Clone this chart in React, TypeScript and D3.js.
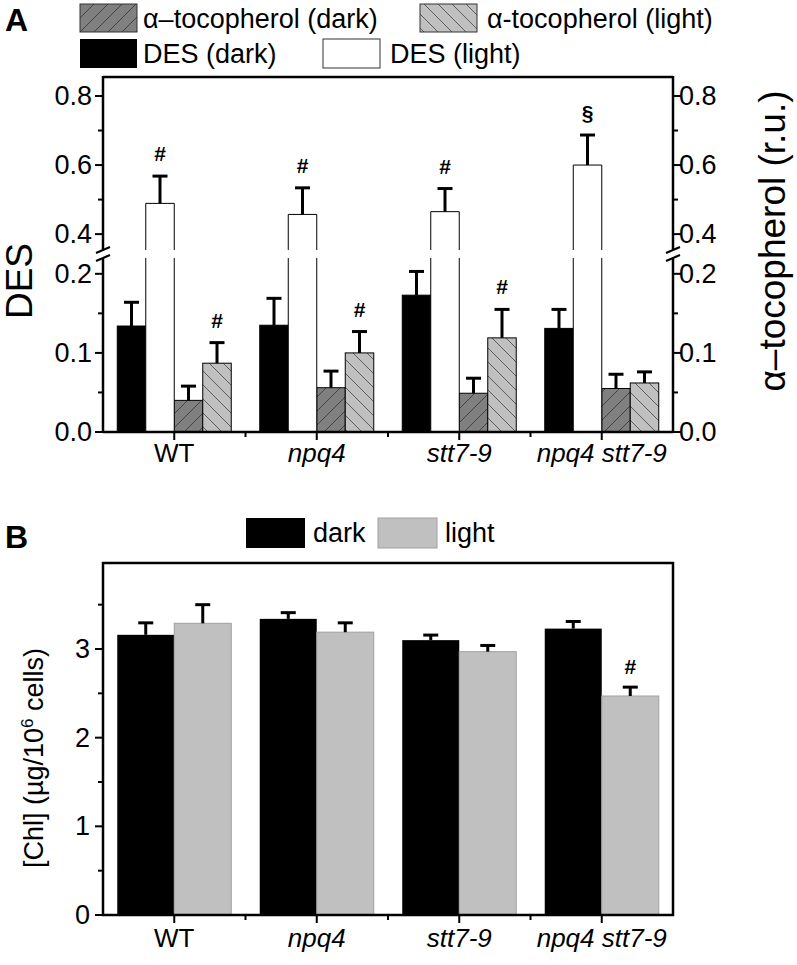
import React from "react";
import * as d3 from "d3";

const FONT = "'Liberation Sans', Arial, Helvetica, sans-serif";

// Panel A data
const groups = ["WT", "npq4", "stt7-9", "npq4 stt7-9"];
const groupItalic = [false, true, true, true];
const desDark = [0.134, 0.135, 0.173, 0.131];
const desDarkErr = [0.030, 0.034, 0.030, 0.024];
const desLight = [0.489, 0.457, 0.465, 0.600];
const desLightErr = [0.079, 0.077, 0.067, 0.087];
const tocDark = [0.040, 0.056, 0.049, 0.055];
const tocDarkErr = [0.018, 0.021, 0.019, 0.018];
const tocLight = [0.087, 0.100, 0.119, 0.062];
const tocLightErr = [0.026, 0.027, 0.036, 0.014];
const desLightMarks = ["#", "#", "#", "§"];
const tocLightMarks = ["#", "#", "#", ""];
const lowTicks = [0, 0.1, 0.2];
const lowMinor = [0.05, 0.15];
const highTicks = [0.4, 0.6, 0.8];
const highMinor = [0.5, 0.7];

// Panel B data
const chlDark = [3.16, 3.34, 3.10, 3.23];
const chlDarkErr = [0.135, 0.07, 0.057, 0.08];
const chlLight = [3.29, 3.19, 2.97, 2.47];
const chlLightErr = [0.21, 0.105, 0.07, 0.10];
const chlLightMarks = ["", "", "", "#"];
const bTicks = [0, 1, 2, 3];
const bMinor = [0.5, 1.5, 2.5, 3.5];

const AX = 2.5;

export default function App() {
  const x = d3.scaleBand<string>().domain(groups).range([103, 673]).padding(0);
  const bw = x.bandwidth();
  const cx = (g: string) => (x(g) as number) + bw / 2;
  const barW = bw / 5;
  const yLow = d3.scaleLinear().domain([0, 0.22]).range([432, 258]);
  const yHigh = d3.scaleLinear().domain([0.354, 0.855]).range([250, 77]);
  const yB = d3.scaleLinear().domain([0, 3.97]).range([915, 563]);
  const fmt = d3.format(".1f");

  const errBar = (key: string, xc: number, y0: number, y1: number) => (
    <g key={key} stroke="#000" strokeWidth={3}>
      <line x1={xc} x2={xc} y1={y0} y2={y1} />
      <line x1={xc - 7.5} x2={xc + 7.5} y1={y1} y2={y1} />
    </g>
  );

  const lowSeries = [
    { vals: desDark, errs: desDarkErr, off: -2, fill: "#000" },
    { vals: tocDark, errs: tocDarkErr, off: 0, fill: "url(#hatchDark)" },
    { vals: tocLight, errs: tocLightErr, off: 1, fill: "url(#hatchLight)" },
  ];

  const A_LEFT = 103, A_RIGHT = 673, A_TOP = 77, A_BOT = 432;
  const B_TOP = 563, B_BOT = 915;

  return (
    <svg width={797} height={965} style={{ position: "absolute", left: 0, top: 0, background: "#fff" }} fontFamily={FONT}>
      <defs>
        <pattern id="hatchDark" patternUnits="userSpaceOnUse" width={14} height={14}>
          <rect width={14} height={14} fill="#808080" />
          <path d="M0,14 L14,0 M-3,3 L3,-3 M11,17 L17,11" stroke="#333" strokeWidth={0.8} />
        </pattern>
        <pattern id="hatchLight" patternUnits="userSpaceOnUse" width={14} height={14}>
          <rect width={14} height={14} fill="#c0c0c0" />
          <path d="M0,0 L14,14 M-3,11 L3,17 M11,-3 L17,3" stroke="#444" strokeWidth={0.8} />
        </pattern>
      </defs>

      {/* ---------- Panel A ---------- */}
      <text x={5} y={31} fontSize={32} fontWeight="bold">A</text>
      {/* legend A */}
      <rect x={80} y={4} width={57} height={28} fill="url(#hatchDark)" stroke="#333" strokeWidth={1} />
      <text x={143} y={28} fontSize={27}>α–tocopherol (dark)</text>
      <rect x={420} y={4} width={57} height={28} fill="url(#hatchLight)" stroke="#333" strokeWidth={1} />
      <text x={487} y={28} fontSize={27}>α-tocopherol (light)</text>
      <rect x={80} y={39} width={57} height={29} fill="#000" />
      <text x={143} y={63} fontSize={27}>DES (dark)</text>
      <rect x={323} y={39} width={57} height={29} fill="#fff" stroke="#333" strokeWidth={1} />
      <text x={390} y={63} fontSize={27}>DES (light)</text>

      {/* bars lower segment */}
      {lowSeries.map((s, si) =>
        groups.map((g, i) => {
          const left = cx(g) + s.off * barW;
          const yv = yLow(s.vals[i]);
          return (
            <g key={`l${si}-${i}`}>
              <rect x={left} y={yv} width={barW} height={A_BOT - yv} fill={s.fill} stroke="#000" strokeWidth={1} />
              {errBar(`le${si}-${i}`, left + barW / 2, yv, yLow(s.vals[i] + s.errs[i]))}
            </g>
          );
        })
      )}
      {/* DES light broken bars */}
      {groups.map((g, i) => {
        const left = cx(g) - barW;
        const right = left + barW;
        const top = yHigh(desLight[i]);
        const lowTop = yLow(0.22);
        return (
          <g key={`dl${i}`}>
            <rect x={left} y={lowTop} width={barW} height={A_BOT - lowTop} fill="#fff" />
            <rect x={left} y={top} width={barW} height={250 - top} fill="#fff" />
            <path d={`M${left},${A_BOT}V${lowTop}M${right},${A_BOT}V${lowTop}`} stroke="#000" strokeWidth={1} fill="none" />
            <path d={`M${left},250V${top}H${right}V250`} stroke="#000" strokeWidth={1} fill="none" />
            {errBar(`dle${i}`, left + barW / 2, top, yHigh(desLight[i] + desLightErr[i]))}
            {desLightMarks[i] && (
              <text x={left + barW / 2} y={yHigh(desLight[i] + desLightErr[i]) - 15} fontSize={21} fontWeight="bold" textAnchor="middle">{desLightMarks[i]}</text>
            )}
          </g>
        );
      })}
      {groups.map((g, i) =>
        tocLightMarks[i] ? (
          <text key={`tm${i}`} x={cx(g) + 1.5 * barW} y={yLow(tocLight[i] + tocLightErr[i]) - 15} fontSize={21} fontWeight="bold" textAnchor="middle">{tocLightMarks[i]}</text>
        ) : null
      )}

      {/* frame A */}
      <line x1={A_LEFT} x2={A_RIGHT} y1={A_TOP} y2={A_TOP} stroke="#000" strokeWidth={AX} />
      <line x1={A_LEFT} x2={A_RIGHT} y1={A_BOT} y2={A_BOT} stroke="#000" strokeWidth={AX} />
      {[A_LEFT, A_RIGHT].map((ax, k) => (
        <g key={`ax${k}`} stroke="#000">
          <line x1={ax} x2={ax} y1={A_TOP - 1} y2={250} strokeWidth={AX} />
          <line x1={ax} x2={ax} y1={258} y2={A_BOT + 1} strokeWidth={AX} />
          <line x1={ax - 7} x2={ax + 7} y1={253} y2={247} strokeWidth={2} />
          <line x1={ax - 7} x2={ax + 7} y1={261} y2={255} strokeWidth={2} />
        </g>
      ))}
      {/* y ticks A */}
      {[
        ...lowTicks.map((v) => ({ y: yLow(v), v, major: true })),
        ...lowMinor.map((v) => ({ y: yLow(v), v, major: false })),
        ...highTicks.map((v) => ({ y: yHigh(v), v, major: true })),
        ...highMinor.map((v) => ({ y: yHigh(v), v, major: false })),
      ].map((t, i) => (
        <g key={`ta${i}`}>
          <line x1={A_LEFT} x2={A_LEFT - (t.major ? 8 : 5)} y1={t.y} y2={t.y} stroke="#000" strokeWidth={2} />
          <line x1={A_RIGHT} x2={A_RIGHT + (t.major ? 8 : 5)} y1={t.y} y2={t.y} stroke="#000" strokeWidth={2} />
          {t.major && (
            <>
              <text x={92} y={t.y} fontSize={27} textAnchor="end" dominantBaseline="central">{fmt(t.v)}</text>
              <text x={679} y={t.y} fontSize={27} textAnchor="start" dominantBaseline="central">{fmt(t.v)}</text>
            </>
          )}
        </g>
      ))}
      {/* x ticks A */}
      {groups.map((g, i) => (
        <g key={`xa${i}`} stroke="#000" strokeWidth={2}>
          <line x1={cx(g)} x2={cx(g)} y1={A_BOT} y2={A_BOT + 8} />
          {i > 0 && <line x1={x(g) as number} x2={x(g) as number} y1={A_BOT} y2={A_BOT + 5} />}
        </g>
      ))}
      {groups.map((g, i) => (
        <text key={`xla${i}`} x={cx(g)} y={462} fontSize={26} textAnchor="middle" fontStyle={groupItalic[i] ? "italic" : "normal"}>{g}</text>
      ))}
      <text transform="translate(32,281) rotate(-90)" fontSize={37} textAnchor="middle">DES</text>
      <text transform="translate(785,241) rotate(-90)" fontSize={37} textAnchor="middle">α–tocopherol (r.u.)</text>

      {/* ---------- Panel B ---------- */}
      <text x={5} y={548} fontSize={32} fontWeight="bold">B</text>
      <rect x={246} y={518} width={59} height={30} fill="#000" />
      <text x={313} y={542} fontSize={27}>dark</text>
      <rect x={378} y={518} width={59} height={30} fill="#c0c0c0" stroke="#a0a0a0" strokeWidth={1} />
      <text x={445} y={542} fontSize={27}>light</text>

      {groups.map((g, i) => {
        const c = cx(g);
        const w = bw * 0.4;
        const yd = yB(chlDark[i]);
        const yl = yB(chlLight[i]);
        return (
          <g key={`b${i}`}>
            <rect x={c - w} y={yd} width={w} height={B_BOT - yd} fill="#000" />
            <rect x={c} y={yl} width={w} height={B_BOT - yl} fill="#c0c0c0" stroke="#a0a0a0" strokeWidth={1} />
            {errBar(`bd${i}`, c - w / 2, yd, yB(chlDark[i] + chlDarkErr[i]))}
            {errBar(`bl${i}`, c + w / 2, yl, yB(chlLight[i] + chlLightErr[i]))}
            {chlLightMarks[i] && (
              <text x={c + w / 2} y={yB(chlLight[i] + chlLightErr[i]) - 13} fontSize={21} fontWeight="bold" textAnchor="middle">{chlLightMarks[i]}</text>
            )}
          </g>
        );
      })}

      <rect x={A_LEFT} y={B_TOP} width={A_RIGHT - A_LEFT} height={B_BOT - B_TOP} fill="none" stroke="#000" strokeWidth={AX} />
      {[...bTicks.map((v) => ({ v, major: true })), ...bMinor.map((v) => ({ v, major: false }))].map((t, i) => (
        <g key={`tb${i}`}>
          <line x1={A_LEFT} x2={A_LEFT - (t.major ? 8 : 5)} y1={yB(t.v)} y2={yB(t.v)} stroke="#000" strokeWidth={2} />
          {t.major && (
            <text x={90} y={yB(t.v)} fontSize={27} textAnchor="end" dominantBaseline="central">{t.v}</text>
          )}
        </g>
      ))}
      {groups.map((g, i) => (
        <g key={`xb${i}`} stroke="#000" strokeWidth={2}>
          <line x1={cx(g)} x2={cx(g)} y1={B_BOT} y2={B_BOT + 8} />
          {i > 0 && <line x1={x(g) as number} x2={x(g) as number} y1={B_BOT} y2={B_BOT + 5} />}
        </g>
      ))}
      {groups.map((g, i) => (
        <text key={`xlb${i}`} x={cx(g)} y={947} fontSize={26} textAnchor="middle" fontStyle={groupItalic[i] ? "italic" : "normal"}>{g}</text>
      ))}
      <text transform="translate(43,758) rotate(-90)" fontSize={27} textAnchor="middle">
        [Chl] (µg/10<tspan fontSize={17} dy={-10}>6</tspan><tspan dy={10}> cells)</tspan>
      </text>
    </svg>
  );
}
